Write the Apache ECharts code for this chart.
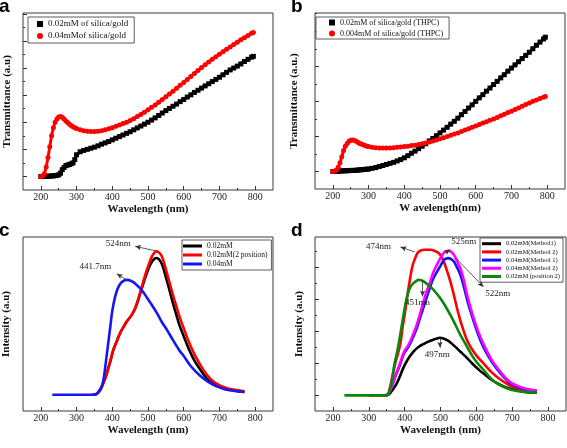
<!DOCTYPE html>
<html><head><meta charset="utf-8">
<script src="https://cdn.jsdelivr.net/npm/echarts@6/dist/echarts.min.js"></script>
<style>html,body{margin:0;padding:0;background:#fff}#c{width:567px;height:448px}</style>
</head><body><div id="c"></div>
<script>
// ---------- tick labels ----------
const xTickLabels = [200, 300, 400, 500, 600, 700, 800];
const xMinorTicks = [250, 350, 450, 550, 650, 750];

// ---------- panel a / b (shared wavelength grid) ----------
const abNm = [200,205,210,215,220,225,230,235,240,245,250,255,260,265,270,275,280,285,290,295,300,
  310,320,330,340,350,360,370,380,390,400,410,420,430,440,450,460,470,480,490,500,
  510,520,530,540,550,560,570,580,590,600,610,620,630,640,650,660,670,680,690,700,
  710,720,730,740,750,760,770,780,790,795];
const aBlack = [0,0,0,0,0.01,0.01,0.02,0.02,0.03,0.04,0.06,0.12,0.25,0.33,0.4,0.42,0.44,0.47,0.5,0.62,0.8,
  0.91,0.96,1.0,1.04,1.08,1.13,1.19,1.24,1.29,1.35,1.41,1.47,1.53,1.59,1.65,1.72,1.79,1.86,1.93,2.0,
  2.08,2.16,2.25,2.34,2.43,2.51,2.59,2.67,2.76,2.84,2.93,3.01,3.10,3.18,3.26,3.34,3.42,3.5,3.58,3.66,
  3.75,3.84,3.93,4.0,4.07,4.15,4.24,4.32,4.4,4.43];
const aRed = [0,0.02,0.1,0.35,0.7,1.1,1.5,1.8,2.0,2.12,2.19,2.21,2.18,2.12,2.05,1.99,1.93,1.88,1.83,1.8,1.77,
  1.72,1.69,1.67,1.66,1.66,1.67,1.69,1.72,1.76,1.8,1.85,1.9,1.95,2.0,2.06,2.13,2.21,2.29,2.37,2.46,
  2.55,2.64,2.74,2.84,2.94,3.04,3.14,3.25,3.36,3.47,3.58,3.69,3.8,3.91,4.02,4.12,4.22,4.32,4.42,4.51,
  4.6,4.69,4.78,4.87,4.95,5.04,5.12,5.2,5.28,5.31];
const bBlack = [0,0,0,0.005,0.01,0.015,0.02,0.02,0.02,0.025,0.03,0.03,0.03,0.035,0.04,0.045,0.05,0.055,0.06,0.065,0.07,
  0.09,0.11,0.14,0.17,0.2,0.23,0.26,0.3,0.34,0.39,0.45,0.52,0.58,0.65,0.72,0.79,0.87,0.94,1.02,1.1,
  1.18,1.26,1.35,1.43,1.52,1.62,1.71,1.81,1.9,2.0,2.1,2.19,2.29,2.38,2.48,2.57,2.67,2.76,2.86,2.95,
  3.04,3.13,3.22,3.31,3.4,3.5,3.6,3.69,3.78,3.83];
const bRed = [0,0.01,0.04,0.12,0.25,0.42,0.6,0.72,0.8,0.86,0.89,0.9,0.89,0.86,0.83,0.8,0.78,0.76,0.74,0.72,0.71,
  0.69,0.68,0.67,0.67,0.67,0.67,0.68,0.69,0.7,0.71,0.72,0.74,0.75,0.77,0.79,0.81,0.84,0.87,0.9,0.93,
  0.96,1.0,1.03,1.07,1.1,1.14,1.18,1.22,1.26,1.3,1.34,1.38,1.42,1.46,1.5,1.54,1.59,1.63,1.68,1.72,
  1.77,1.81,1.86,1.91,1.95,2.0,2.04,2.08,2.12,2.14];

// ---------- panel c ----------
const cBlueNm = [232,300,345,355,362,370,375,380,385,390,395,400,408,415,422,430,441.7,450,460,470,480,490,500,510,525,540,553,570,588,600,620,646,670,692,715,739,770];
const cBlue   = [0,0,0,0.5,2,5,9,17,26,35,44,53,62,67,70,71.8,72.6,72.2,71,69,66.8,63.8,60.3,57,51.6,45.5,41,34.5,28,24.5,18,12,8,5.3,3.5,2.5,1.7];
const cRedNm  = [345,355,365,375,382,389,396,403,412,422,432,441,448,455,462,469,476,483,490,497,504,511,518,524.6,531,539,546,553,562,571,580,588,600,615,630,646,660,675,692,715,739,770];
const cRed    = [0,0.3,2.5,7.4,11.5,16.9,22.5,28.4,33.5,39,43,46.4,48.5,50.6,53.5,57.9,63,68.5,74,79,83.5,87.4,89.8,90.6,89.8,87.4,82.5,76.9,69.5,62.2,55.5,49.5,42,33,25.5,19,14,10,7,4.5,3.2,2.1];
const cBlackNm = [345,355,365,375,382,389,396,403,412,422,432,441,448,455,462,469,476,483,490,497,504,511,518,524,531,539,546,553,562,571,580,588,600,615,630,646,660,675,692,715,739,770];
const cBlack   = [0,0.3,2.5,7.4,11.5,16.9,22.5,28.4,33.5,39,43,46.4,48.5,50.6,53.5,57.5,62.5,67.5,72.5,77,81,84,86,86.4,85.5,82.5,77.5,72,64.5,57,50,44,37,28.5,21.5,16,11.5,8,5.8,3.8,2.7,1.8];

// ---------- panel d ----------
const dBlackNm = [345,355,365,377,387,396,405,414.6,424,433,442,452,466,480,490,498,508,516,526,540,555,573,590,605,620,643,666,690,713,740,769];
const dBlack   = [0,0.02,0.15,0.35,0.6,0.85,1.05,1.22,1.36,1.46,1.54,1.6,1.68,1.74,1.78,1.8,1.78,1.74,1.67,1.53,1.37,1.18,0.98,0.82,0.68,0.48,0.33,0.22,0.16,0.1,0.08];
const dRedNm = [300,350,358,366,375,387.5,394,401.5,408,415.5,422,429.5,436,443.5,455,465,471.5,483,494.8,502,508.8,518,527.4,537,546,555,565,575,590,605,620,640,666,690,713,740,769];
const dRed   = [0,0,0.2,0.6,1.05,1.58,2.1,2.63,3.15,3.67,4.05,4.29,4.45,4.52,4.55,4.55,4.55,4.52,4.45,4.35,4.19,3.9,3.56,3.15,2.73,2.35,2.0,1.7,1.4,1.18,1.0,0.75,0.5,0.33,0.22,0.14,0.1];
const dBlueNm = [345,355,365,375,387,398,410.8,420,434,443,452.8,462,471.5,480,490,500,508.8,515,521,528,536.8,546,555.4,565,575,590,605,620,643,666,690,713,740,769];
const dBlue   = [0,0.05,0.3,0.62,0.95,1.3,1.52,1.72,2.1,2.42,2.76,3.08,3.4,3.65,3.86,4.05,4.22,4.27,4.29,4.27,4.19,4.0,3.77,3.4,2.95,2.4,1.9,1.5,1.05,0.7,0.42,0.27,0.18,0.13];
const dMagentaNm = [345,355,365,375,387,398,410.8,420,434,443,452.8,462,471.5,480,490,500,508.8,515,521,528,536.8,546,555.4,565,575,590,605,620,643,666,690,713,740,769];
const dMagenta   = [0,0.05,0.3,0.65,1.0,1.35,1.58,1.8,2.21,2.55,2.94,3.27,3.56,3.85,4.08,4.3,4.45,4.5,4.52,4.5,4.4,4.2,3.98,3.6,3.1,2.5,2.0,1.6,1.1,0.75,0.45,0.3,0.2,0.15];
const dGreenNm = [232,300,350,358,365,372,378,383,390,397,404,411,418,425,432,439,446,453,465,476,488,499,513,527,541,555,570,585,600,620,643,666,690,713,740,769];
const dGreen   = [0,0,0,0.15,0.5,1.0,1.3,1.58,2.05,2.52,2.95,3.25,3.42,3.51,3.57,3.61,3.6,3.56,3.46,3.35,3.2,3.04,2.8,2.52,2.22,1.9,1.6,1.3,1.05,0.8,0.5,0.32,0.2,0.14,0.1,0.08];

// ---------- annotations (data coordinates) ----------
const cNotes = [
  {text:'524nm',   at:[417, 95.4], from:[524.6, 90.8], to:[464, 93.8]},
  {text:'441.7nm', at:[353, 80.7], from:[437.9, 72.9], to:[412.7, 76.5]}
];
const dNotes = [
  {text:'474nm', at:[327, 4.66],   from:[428.5, 4.48], to:[388.4, 4.64]},
  {text:'525nm', at:[564.7, 4.79], from:[513, 4.45],   to:[527, 4.56]},
  {text:'522nm', at:[660, 3.18],   from:[545, 4.27],   to:[619.8, 3.39]},
  {text:'451nm', at:[436, 2.9],    from:[450, 3.59],   to:[450, 3.09]},
  {text:'497nm', at:[491, 1.27],   from:[498.5, 1.79], to:[498.5, 1.49]}
];

const F = '"Liberation Serif","Times New Roman",serif';
const zip = (xs, ys) => xs.map((x, i) => [x, ys[i]]);

const grids = [
  {left:23, top:13, width:250, height:177},
  {left:315, top:13, width:250, height:176},
  {left:23, top:237, width:250, height:174},
  {left:315, top:237, width:251, height:174}
].map(g => Object.assign(g, {show:true, borderColor:'#3a3a3a', borderWidth:1, backgroundColor:'transparent'}));

const xNames = ['Wavelength (nm)', 'W avelength(nm)', 'Wavelength (nm)', 'Wavelength (nm)'];
const xAxes = [];
for (let i = 0; i < 4; i++) {
  xAxes.push({gridIndex:i, type:'value', min:150, max:850, position:'bottom',
    axisLine:{show:false, onZero:false},
    axisTick:{show:true, inside:true, length:4, customValues:xTickLabels, lineStyle:{color:'#333'}},
    axisLabel:{customValues:xTickLabels, fontFamily:F, fontSize:10, color:'#222', margin:2},
    splitLine:{show:false},
    name:xNames[i], nameLocation:'middle', nameGap:14,
    nameTextStyle:{fontFamily:F, fontWeight:'bold', fontSize:11, color:'#111'}});
  xAxes.push({gridIndex:i, type:'value', min:150, max:850, position:'bottom',
    axisLine:{show:false, onZero:false},
    axisTick:{show:true, inside:true, length:2, customValues:xMinorTicks, lineStyle:{color:'#333'}},
    axisLabel:{show:false}, splitLine:{show:false}});
}

const yCfg = [
  {min:-0.5, max:6.03, major:[0,1,2,3,4,5,6], minor:[0.5,1.5,2.5,3.5,4.5,5.5], name:'Transmittance (a.u)', gap:10},
  {min:-0.5, max:4.52, major:[0,1,2,3,4], minor:[0.5,1.5,2.5,3.5,4.5], name:'Transmittance (a.u.)', gap:15},
  {min:-10.3, max:99.7, major:[], minor:[], name:'Intensity (a.u)', gap:11},
  {min:-0.49, max:4.95, major:[0,1,2,3,4], minor:[0.5,1.5,2.5,3.5,4.5], name:'Intensity (a.u)', gap:10}
];
const yAxes = [];
yCfg.forEach((c, i) => {
  yAxes.push({gridIndex:i, type:'value', min:c.min, max:c.max, position:'left',
    axisLine:{show:false, onZero:false},
    axisTick:{show:c.major.length > 0, inside:true, length:4, customValues:c.major, lineStyle:{color:'#333'}},
    axisLabel:{show:false}, splitLine:{show:false},
    name:c.name, nameLocation:'middle', nameGap:c.gap,
    nameTextStyle:{fontFamily:F, fontWeight:'bold', fontSize:11, color:'#111'}});
  yAxes.push({gridIndex:i, type:'value', min:c.min, max:c.max, position:'left',
    axisLine:{show:false, onZero:false},
    axisTick:{show:c.minor.length > 0, inside:true, length:2, customValues:c.minor, lineStyle:{color:'#333'}},
    axisLabel:{show:false}, splitLine:{show:false}});
});

function dotSeries(name, gi, data, color, symbol) {
  return {name, type:'line', xAxisIndex:gi*2, yAxisIndex:gi*2, data, symbol, symbolSize:5,
    showSymbol:true, showAllSymbol:true, itemStyle:{color}, lineStyle:{color, width:3}, animation:false};
}
function curve(name, gi, data, color) {
  return {name, type:'line', xAxisIndex:gi*2, yAxisIndex:gi*2, data, symbol:'none', smooth:0.4,
    itemStyle:{color}, lineStyle:{color, width:2.6}, animation:false};
}
function notes(gi, list) {
  return {name:'notes'+gi, type:'line', xAxisIndex:gi*2, yAxisIndex:gi*2, data:[], symbol:'none', animation:false, silent:true,
    markLine:{silent:true, symbol:['none','arrow'], symbolSize:[4,6], animation:false,
      lineStyle:{color:'#333', width:0.8, type:'solid'}, label:{show:false},
      data:list.map(n => [{coord:n.from}, {coord:n.to}])},
    markPoint:{silent:true, animation:false, symbol:'circle', symbolSize:1, itemStyle:{color:'rgba(0,0,0,0)'},
      label:{show:true, position:'inside', fontFamily:F, fontSize:9, color:'#222'},
      data:list.map(n => ({coord:n.at, value:n.text, label:{formatter:n.text}}))}};
}

const series = [
  dotSeries('0.02mM of silica/gold', 0, zip(abNm, aBlack), '#000', 'rect'),
  dotSeries('0.04mMof silica/gold', 0, zip(abNm, aRed), '#f00', 'circle'),
  dotSeries('0.02mM of silica/gold (THPC)', 1, zip(abNm, bBlack), '#000', 'rect'),
  dotSeries('0.004mM of silica/gold (THPC)', 1, zip(abNm, bRed), '#f00', 'circle'),
  curve('0.02mM', 2, zip(cBlackNm, cBlack), '#000'),
  curve('0.02mM(2 position)', 2, zip(cRedNm, cRed), '#f00'),
  curve('0.04mM', 2, zip(cBlueNm, cBlue), '#1515f5'),
  notes(2, cNotes),
  curve('0.02mM(Method1)', 3, zip(dBlackNm, dBlack), '#000'),
  curve('0.02mM(Method 2)', 3, zip(dRedNm, dRed), '#f00'),
  curve('0.04mM(Method 1)', 3, zip(dBlueNm, dBlue), '#1515f5'),
  curve('0.04mM(Method 2)', 3, zip(dMagentaNm, dMagenta), '#f0f'),
  curve('0.02mM (position 2)', 3, zip(dGreenNm, dGreen), '#0a870a'),
  notes(3, dNotes)
];

const legBase = {orient:'vertical', borderColor:'#333', borderWidth:0.8, backgroundColor:'#fff', selectedMode:false, align:'left'};
const legends = [
  Object.assign({}, legBase, {left:28, top:17, padding:[2,6,2,9], itemGap:2, itemWidth:6, itemHeight:6,
    textStyle:{fontFamily:F, fontSize:9, color:'#111', lineHeight:10},
    data:[{name:'0.02mM of silica/gold', icon:'rect'}, {name:'0.04mMof silica/gold', icon:'circle'}]}),
  Object.assign({}, legBase, {left:316, top:17, padding:[1,6,1,13], itemGap:2, itemWidth:6, itemHeight:6,
    textStyle:{fontFamily:F, fontSize:8, color:'#111', lineHeight:9},
    data:[{name:'0.02mM of silica/gold (THPC)', icon:'rect'}, {name:'0.004mM of silica/gold (THPC)', icon:'circle'}]}),
  Object.assign({}, legBase, {left:182, top:240, padding:[2,4,2,1], itemGap:1, itemWidth:19, itemHeight:3, itemTextGap:1,
    textStyle:{fontFamily:F, fontSize:7.5, color:'#111', lineHeight:8},
    data:['0.02mM','0.02mM(2 position)','0.04mM'].map(n => ({name:n, icon:'rect'}))}),
  Object.assign({}, legBase, {left:480, top:238, padding:[2,3,2,2], itemGap:0.8, itemWidth:19, itemHeight:3, itemTextGap:1,
    textStyle:{fontFamily:F, fontSize:6.5, color:'#111', lineHeight:7.4},
    data:['0.02mM(Method1)','0.02mM(Method 2)','0.04mM(Method 1)','0.04mM(Method 2)','0.02mM (position 2)'].map(n => ({name:n, icon:'rect'}))})
];

const letterStyle = {fontFamily:'"Liberation Sans",Arial,sans-serif', fontWeight:'bold', fontSize:19, color:'#000'};
const titles = [
  {text:'a', left:-1, top:-3}, {text:'b', left:291, top:-3},
  {text:'c', left:-1, top:221}, {text:'d', left:291, top:221}
].map(t => Object.assign(t, {padding:0, textStyle:letterStyle}));

const chart = echarts.init(document.getElementById('c'), null, {renderer:'canvas'});
chart.setOption({
  animation:false, backgroundColor:'#fff',
  title:titles, grid:grids, xAxis:xAxes, yAxis:yAxes, legend:legends, series
});
</script></body></html>
